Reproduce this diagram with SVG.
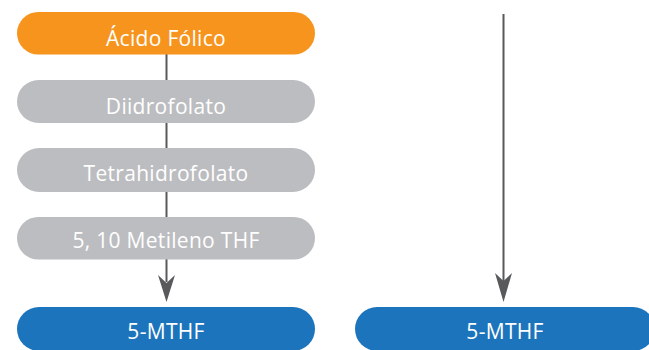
<svg xmlns="http://www.w3.org/2000/svg" width="649" height="350" viewBox="0 0 649 350">
<style>
.pill{stroke:none}
.orange{fill:#F7941D}
.gray{fill:#BCBDC0}
.blue{fill:#1C75BC}
.lbl{fill:#FFFFFF;font-family:"Open Sans","Noto Sans","DejaVu Sans",sans-serif;font-size:21px;text-anchor:middle;letter-spacing:0.3px}
.conn{stroke:#58595B;stroke-width:2;fill:none}
</style>
<g id="connectors">
<line class="conn" x1="166.5" y1="54" x2="166.5" y2="81"/>
<line class="conn" x1="166.5" y1="122" x2="166.5" y2="149"/>
<line class="conn" x1="166.5" y1="191" x2="166.5" y2="218"/>
<path d="M166.5,259 L166.5,282" class="conn"/>
<path d="M158,275 L166.5,283 L175,275 L166.5,302 Z" fill="#58595B"/>
<path d="M503.5,14 L503.5,282" class="conn"/>
<path d="M495,273 L503.5,281 L512,273 L503.5,302 Z" fill="#58595B"/>
</g>
<g id="node-acido">
<rect class="pill orange" x="17" y="12" width="298" height="42.5" rx="21.25"/>
<text class="lbl" x="166" y="46">Ácido Fólico</text>
</g>
<g id="node-diidrofolato">
<rect class="pill gray" x="17" y="80" width="298" height="43" rx="21.5"/>
<text class="lbl" x="166" y="114">Diidrofolato</text>
</g>
<g id="node-tetrahidrofolato">
<rect class="pill gray" x="17" y="148" width="298" height="44" rx="22"/>
<text class="lbl" x="166" y="181">Tetrahidrofolato</text>
</g>
<g id="node-metileno">
<rect class="pill gray" x="17" y="217" width="298" height="42.5" rx="21.25"/>
<text class="lbl" x="166" y="248">5, 10 Metileno THF</text>
</g>
<g id="node-mthf-left">
<rect class="pill blue" x="17" y="307" width="298" height="44" rx="22"/>
<text class="lbl" x="166" y="339">5-MTHF</text>
</g>
<g id="node-mthf-right">
<rect class="pill blue" x="355" y="307" width="300" height="44" rx="22"/>
<text class="lbl" x="505" y="339">5-MTHF</text>
</g>
</svg>
